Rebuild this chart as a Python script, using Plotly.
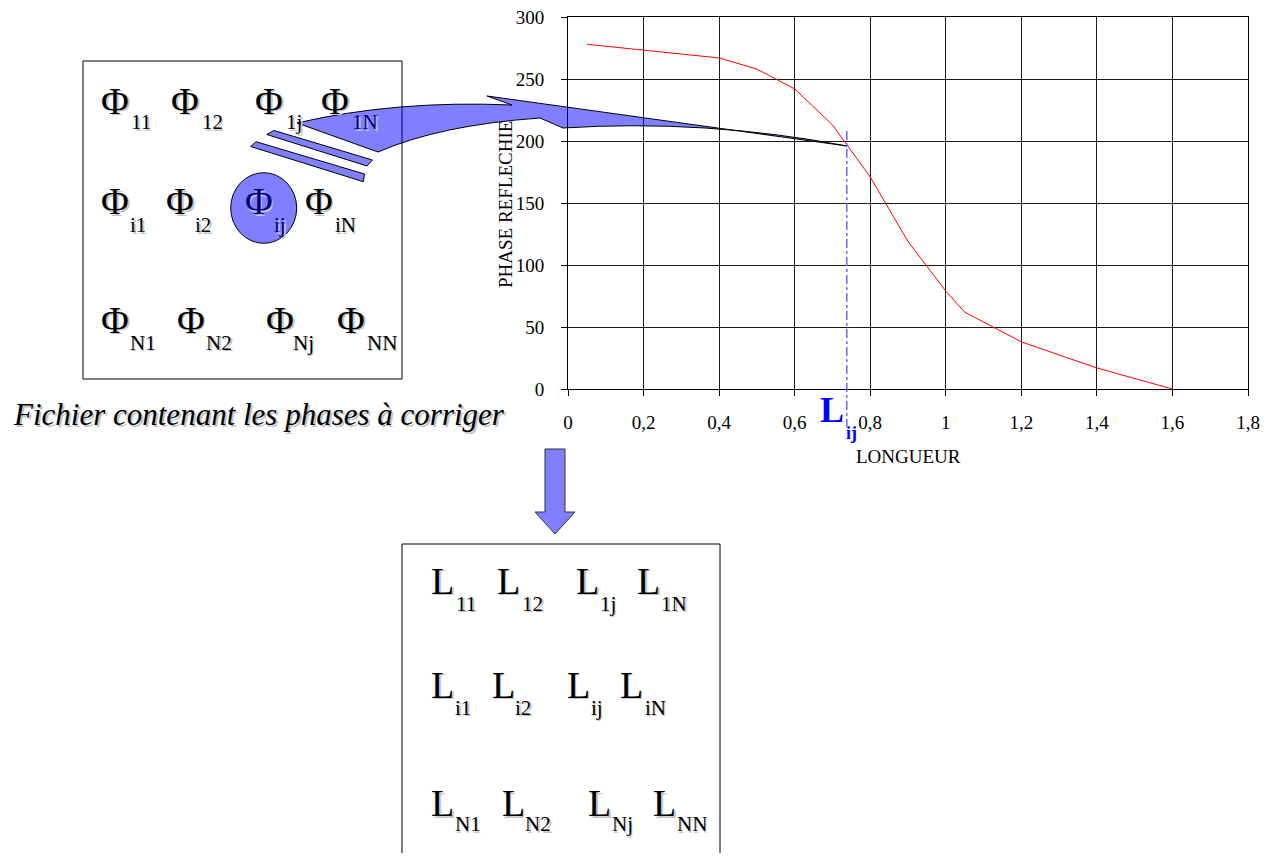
import numpy as np
import plotly.graph_objects as go

# ---------------- data ----------------
longueur = [0.05, 0.4, 0.5, 0.6, 0.7, 0.8, 0.9, 1.0, 1.05, 1.2, 1.4, 1.6]
phase = [278, 267, 258, 242, 213, 171, 119, 79, 62, 38, 17, 0]
x_tick_vals = [0, 0.2, 0.4, 0.6, 0.8, 1.0, 1.2, 1.4, 1.6, 1.8]
x_tick_text = ["0", "0,2", "0,4", "0,6", "0,8", "1", "1,2", "1,4", "1,6", "1,8"]
y_tick_vals = [0, 50, 100, 150, 200, 250, 300]
L_ij = 0.738
phase_ij = float(np.interp(L_ij, longueur, phase))

phi_subs = [["11", "12", "1j", "1N"], ["i1", "i2", "ij", "iN"], ["N1", "N2", "Nj", "NN"]]
L_subs = [["11", "12", "1j", "1N"], ["i1", "i2", "ij", "iN"], ["N1", "N2", "Nj", "NN"]]
caption = "Fichier contenant les phases à corriger"
x_title = "LONGUEUR"
y_title = "PHASE REFLECHIE"

# ---------------- layout helpers (pixel -> paper) ----------------
W, H, OFF = 1253, 845, 8


def fx(X):
    return (X - OFF) / W


def fy(Y):
    return 1 - (Y - OFF) / H


def path(cmds):
    out = []
    for c in cmds:
        if c[0] == "Z":
            out.append("Z")
        else:
            nums = []
            for i in range(1, len(c), 2):
                nums.append(f"{fx(c[i]):.5f},{fy(c[i + 1]):.5f}")
            out.append(c[0] + " " + " ".join(nums))
    return " ".join(out)


SERIF = "Liberation Serif"
BLUE_FILL = "rgba(0,0,255,0.5)"
NAVY = "#00007f"
SHADOW = "#c4c4c4"

fig = go.Figure()
fig.add_trace(go.Scatter(x=longueur, y=phase, mode="lines",
                         line=dict(color="red", width=1),
                         showlegend=False, hoverinfo="skip"))

shapes = []
annotations = []

# boxes
shapes.append(dict(type="rect", xref="paper", yref="paper",
                   x0=fx(83), x1=fx(402), y0=fy(379), y1=fy(61),
                   line=dict(color="black", width=1), layer="below"))
shapes.append(dict(type="rect", xref="paper", yref="paper",
                   x0=fx(402), x1=fx(720), y0=fy(880), y1=fy(544),
                   line=dict(color="black", width=1), layer="below"))

# circle around phi_ij
shapes.append(dict(type="circle", xref="paper", yref="paper",
                   x0=fx(230.7), x1=fx(296.7), y0=fy(243.3), y1=fy(172.7),
                   fillcolor=BLUE_FILL, line=dict(color="black", width=1), layer="above"))

# big curved arrow
shapes.append(dict(type="path", xref="paper", yref="paper", layer="above",
                   path=path([("M", 297, 123),
                              ("Q", 396, 100, 512, 105),
                              ("L", 487, 96),
                              ("L", 847, 146),
                              ("Q", 705, 119, 563, 128),
                              ("L", 540, 118),
                              ("Q", 440, 125, 378, 152),
                              ("Z",)]),
                   fillcolor=BLUE_FILL, line=dict(color="black", width=1)))
# two bars
shapes.append(dict(type="path", xref="paper", yref="paper", layer="above",
                   path=path([("M", 266.7, 134.5), ("L", 274, 130.5), ("L", 372.5, 160),
                              ("L", 367, 166), ("Z",)]),
                   fillcolor=BLUE_FILL, line=dict(color="black", width=1)))
shapes.append(dict(type="path", xref="paper", yref="paper", layer="above",
                   path=path([("M", 250.7, 146.5), ("L", 256, 141.7), ("L", 364.5, 174),
                              ("L", 363.3, 181.7), ("Z",)]),
                   fillcolor=BLUE_FILL, line=dict(color="black", width=1)))
# down arrow
shapes.append(dict(type="path", xref="paper", yref="paper", layer="above",
                   path=path([("M", 545, 449), ("L", 565, 449), ("L", 565, 512), ("L", 575, 512),
                              ("L", 555, 534), ("L", 535, 512), ("L", 545, 512), ("Z",)]),
                   fillcolor=BLUE_FILL, line=dict(color="#333333", width=1)))

# dash-dot vertical line at L_ij
shapes.append(dict(type="line", xref="x", yref="paper", x0=L_ij, x1=L_ij,
                   y0=fy(131), y1=fy(427), layer="above",
                   line=dict(color="#6b6bff", width=1.5, dash="dashdot")))


def label(txt, X, Y, size, color="black", shadow=True, bold=False, italic=False):
    t = f"<b>{txt}</b>" if bold else txt
    t = f"<i>{t}</i>" if italic else t
    if shadow:
        annotations.append(dict(text=t, x=fx(X + 1.6), y=fy(Y + 1.6), xref="paper", yref="paper",
                                showarrow=False, xanchor="center", yanchor="middle",
                                font=dict(family=SERIF, size=size, color=SHADOW)))
    annotations.append(dict(text=t, x=fx(X), y=fy(Y), xref="paper", yref="paper",
                            showarrow=False, xanchor="center", yanchor="middle",
                            font=dict(family=SERIF, size=size, color=color)))


# phi grid
phi_glyph_x = [[115, 185, 269, 335], [115, 180, 258.5, 318.5], [115, 190.5, 280, 351]]
phi_sub_x = [[141, 212, 294, 365], [138, 203, 280, 345], [142.5, 219, 303, 381.5]]
phi_glyph_y = [100.5, 201, 319.5]
phi_sub_y = [122, 225, 342.5]
navy_glyph = {(1, 2)}
navy_sub = {(0, 3), (1, 2)}
for r in range(3):
    for c in range(4):
        label("Φ", phi_glyph_x[r][c], phi_glyph_y[r], 38,
              color=NAVY if (r, c) in navy_glyph else "black")
        label(phi_subs[r][c], phi_sub_x[r][c], phi_sub_y[r], 21,
              color=NAVY if (r, c) in navy_sub else "black")

# L grid
L_glyph_x = [[443, 508, 587.5, 648.5], [443, 503, 578, 631], [443, 513, 599.5, 664.5]]
L_sub_x = [[466, 532.5, 607.5, 674], [463, 523, 596.5, 655], [467.5, 538, 622, 691.5]]
L_glyph_y = [580.5, 684.5, 803]
L_sub_y = [603.5, 707.5, 824]
for r in range(3):
    for c in range(4):
        label("L", L_glyph_x[r][c], L_glyph_y[r], 38)
        label(L_subs[r][c], L_sub_x[r][c], L_sub_y[r], 21)

# caption
label(caption, 259, 414.5, 31, italic=True)

# axis titles
annotations.append(dict(text=x_title, x=fx(908), y=fy(456.5), xref="paper", yref="paper",
                        showarrow=False, xanchor="center", yanchor="middle",
                        font=dict(family=SERIF, size=19, color="black")))
annotations.append(dict(text=y_title, x=fx(505), y=fy(205), xref="paper", yref="paper",
                        showarrow=False, xanchor="center", yanchor="middle", textangle=-90,
                        font=dict(family=SERIF, size=19, color="black")))

# L_ij marker label
annotations.append(dict(text="<b>L</b>", x=L_ij, xref="x", y=fy(410), yref="paper",
                        xanchor="right", yanchor="middle", xshift=-1, showarrow=False,
                        font=dict(family=SERIF, size=36, color="#0000ff")))
annotations.append(dict(text="<b>ij</b>", x=L_ij, xref="x", y=fy(433), yref="paper",
                        xanchor="center", yanchor="middle", xshift=5, showarrow=False,
                        font=dict(family=SERIF, size=18, color="#0000ff")))

axis_common = dict(showgrid=True, gridcolor="#1a1a1a", gridwidth=1,
                   showline=True, linecolor="black", linewidth=1, mirror=True,
                   zeroline=False, ticks="outside", ticklen=6, tickcolor="black",
                   automargin=False, ticklabeloverflow="allow",
                   tickfont=dict(family=SERIF, size=19, color="black"))

fig.update_layout(
    width=W, height=H, autosize=False,
    margin=dict(l=0, r=0, t=0, b=0, pad=0, autoexpand=False),
    paper_bgcolor="white", plot_bgcolor="white",
    showlegend=False,
    xaxis=dict(domain=[fx(568), fx(1248)], range=[0, 1.8],
               tickvals=x_tick_vals, ticktext=x_tick_text, ticklabelstandoff=10,
               **axis_common),
    yaxis=dict(domain=[fy(389), fy(17)], range=[0, 300.01],
               tickvals=y_tick_vals, ticklabelstandoff=13, **axis_common),
    shapes=shapes,
    annotations=annotations,
)

fig.write_html("out.html")
